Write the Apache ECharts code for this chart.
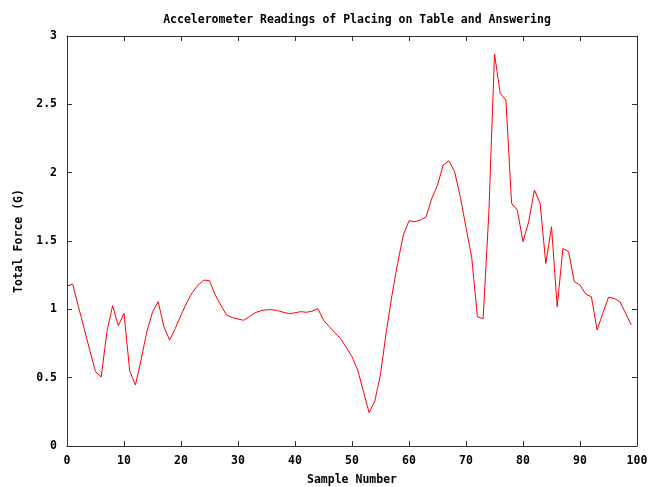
<!DOCTYPE html>
<html>
<head>
<meta charset="utf-8">
<script src="https://cdn.jsdelivr.net/npm/echarts@6/dist/echarts.min.js"></script>
<style>
html, body { margin: 0; padding: 0; background: #fff; }
#myecharts { width: 660px; height: 487px; }
</style>
</head>
<body>
<div id="myecharts"></div>
<script>
// total force per sample
var force = [
  1.17, 1.185, 1.02, 0.86, 0.70, 0.544, 0.505, 0.836, 1.027, 0.88,
  0.97, 0.55, 0.446, 0.63, 0.836, 0.98, 1.056, 0.873, 0.775, 0.86,
  0.958, 1.048, 1.124, 1.178, 1.214, 1.21, 1.105, 1.03, 0.958, 0.94,
  0.929, 0.92, 0.946, 0.975, 0.99, 0.997, 0.997, 0.99, 0.978, 0.968,
  0.975, 0.983, 0.978, 0.987, 1.005, 0.922, 0.873, 0.829, 0.785, 0.722,
  0.653, 0.556, 0.40, 0.244, 0.328, 0.525, 0.83, 1.10, 1.336, 1.543,
  1.648, 1.641, 1.653, 1.677, 1.812, 1.909, 2.056, 2.087, 2.007, 1.824,
  1.60, 1.38, 0.946, 0.931, 1.70, 2.868, 2.58, 2.531, 1.775, 1.726,
  1.495, 1.641, 1.873, 1.775, 1.336, 1.604, 1.019, 1.446, 1.421, 1.202,
  1.178, 1.112, 1.092, 0.849, 0.971, 1.088, 1.08, 1.056, 0.971, 0.885
];
var sampleNo = force.map(function (v, i) { return i; });

var font = 'DejaVu Sans Mono';
var axisCol = '#333';
var txt = { fontFamily: font, fontSize: 11.5, fontWeight: 'bold', color: '#000' };

var hh = document.getElementById('myecharts');
var echart = echarts.init(hh);

var pts = [];
for (var i = 0; i < force.length; i++) pts.push([sampleNo[i], force[i]]);

// mirror axes (top / right) only carry the inward ticks
function mirror(pos, max, step) {
  return {
    type: 'value', position: pos, min: 0, max: max, interval: step,
    axisLine: { show: true, onZero: false, lineStyle: { color: axisCol } },
    axisTick: { show: true, inside: true, length: 5, lineStyle: { color: axisCol } },
    axisLabel: { show: false }, splitLine: { show: false }
  };
}

echart.setOption({
  animation: false,
  backgroundColor: '#fff',
  title: {
    text: 'Accelerometer Readings of Placing on Table and Answering',
    left: 352, top: 9, textAlign: 'center',
    textStyle: txt
  },
  grid: { left: 67, right: 23, top: 36, bottom: 41, show: false, outerBoundsMode: 'none', containLabel: false },
  xAxis: [{
    type: 'value', min: 0, max: 100, interval: 10,
    name: 'Sample Number', nameLocation: 'middle', nameGap: 28,
    nameTextStyle: txt,
    axisLine: { onZero: false, lineStyle: { color: axisCol } },
    axisTick: { inside: true, length: 5, lineStyle: { color: axisCol } },
    axisLabel: Object.assign({ margin: 9 }, txt),
    splitLine: { show: false }
  }, mirror('top', 100, 10)],
  yAxis: [{
    type: 'value', min: 0, max: 3, interval: 0.5,
    name: 'Total Force (G)', nameLocation: 'middle', nameGap: 42,
    nameTextStyle: txt,
    axisLine: { show: true, onZero: false, lineStyle: { color: axisCol } },
    axisTick: { show: true, inside: true, length: 5, lineStyle: { color: axisCol } },
    axisLabel: Object.assign({ margin: 10 }, txt),
    splitLine: { show: false }
  }, mirror('right', 3, 0.5)],
  series: [{
    type: 'line',
    data: pts,
    showSymbol: false,
    lineStyle: { color: '#ff0000', width: 1 },
    itemStyle: { color: '#ff0000' }
  }]
});

window.addEventListener('resize', function () {
  if (echart) {
    echart.resize();
  }
});
</script>
</body>
</html>
